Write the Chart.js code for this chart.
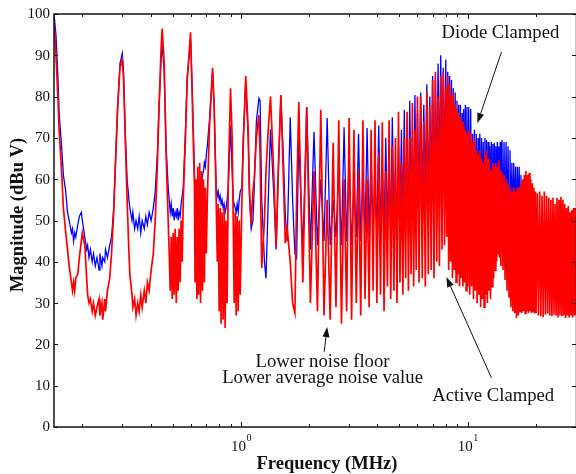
<!DOCTYPE html>
<html>
<head>
<meta charset="utf-8">
<title>Conducted EMI - Diode vs Active Clamped</title>
<script src="https://cdn.jsdelivr.net/npm/chart.js@4/dist/chart.umd.min.js"></script>
<style>
    html, body { margin: 0; padding: 0; background: #fff; }
    #wrap { width: 576px; height: 474px; }
</style>
</head>
<body>
<div id="wrap"><canvas id="emi" width="576" height="474"></canvas></div>
<script>
"use strict";

// Frequency points (MHz) (harmonics of 150 kHz)
var freqMHz = [
    0.150,0.153,0.156,0.158,0.162,0.165,0.169,0.172,0.175,0.179,
    0.181,0.183,0.185,0.187,0.191,0.194,0.198,0.200,0.205,0.209,
    0.211,0.214,0.217,0.221,0.224,0.228,0.232,0.237,0.239,0.244,
    0.246,0.251,0.253,0.258,0.264,0.269,0.275,0.280,0.286,0.293,
    0.300,0.304,0.309,0.315,0.321,0.324,0.331,0.334,0.340,0.345,
    0.351,0.356,0.362,0.367,0.375,0.381,0.387,0.394,0.402,0.411,
    0.419,0.428,0.436,0.445,0.450,0.459,0.468,0.478,0.483,0.488,
    0.493,0.498,0.503,0.508,0.513,0.519,0.524,0.529,0.534,0.540,
    0.545,0.551,0.557,0.568,0.580,0.600,0.610,0.624,0.628,0.634,
    0.640,0.645,0.651,0.658,0.664,0.671,0.677,0.684,0.690,0.697,
    0.704,0.711,0.726,0.750,0.762,0.778,0.787,0.794,0.802,0.810,
    0.818,0.826,0.835,0.843,0.852,0.860,0.869,0.880,0.900,0.915,
    0.925,0.934,0.944,0.953,0.963,0.973,0.983,0.993,1.010,1.024,
    1.050,1.077,1.090,1.110,1.130,1.145,1.170,1.200,1.215,1.235,
    1.270,1.290,1.320,1.350,1.380,1.400,1.430,1.460,1.500,1.540,
    1.570,1.600,1.650,1.690,1.730,1.760,1.800,1.875,1.950,2.025,
    2.100,2.175,2.250,2.325,2.400,2.475,2.550,2.625,2.700,2.775,
    2.850,2.925,3.000,3.075,3.150,3.225,3.300,3.375,3.450,3.525,
    3.600,3.675,3.750,3.825,3.900,3.975,4.050,4.125,4.200,4.275,
    4.350,4.425,4.500,4.575,4.650,4.725,4.800,4.875,4.950,5.025,
    5.100,5.175,5.250,5.325,5.400,5.475,5.550,5.625,5.700,5.775,
    5.850,5.925,6.000,
    6.1,6.2,6.3,6.4,6.5,6.6,6.7,6.8,6.9,7.0,
    7.1,7.2,7.3,7.4,7.5,7.6,7.7,7.8,7.9,8.0,
    8.08,8.16,8.24,8.32,8.40,8.48,8.56,8.64,8.72,8.80,
    8.88,8.96,9.04,9.12,9.20,9.28,9.36,9.44,9.52,9.60,
    9.68,9.76,9.84,9.92,10.0,
    10.1,10.2,10.3,10.4,10.5,10.6,10.7,10.8,10.9,11.0,
    11.1,11.2,11.3,11.4,11.5,11.6,11.7,11.8,11.9,12.0,
    12.1,12.2,12.3,12.4,12.5,12.6,12.7,12.8,12.9,13.0,
    13.1,13.2,13.3,13.4,13.5,13.6,13.7,13.8,13.9,14.0,
    14.15,14.3,14.45,14.6,14.75,14.9,15.05,15.2,15.35,15.5,
    15.65,15.8,15.95,16.1,16.25,16.4,16.55,16.7,16.85,17.0,
    17.15,17.3,17.45,17.6,17.75,17.9,18.05,18.2,18.35,18.5,
    18.65,18.8,18.95,19.1,19.25,19.4,19.55,19.7,19.85,20.0,
    20.25,20.5,20.75,21.0,21.25,21.5,21.75,22.0,22.25,22.5,
    22.75,23.0,23.25,23.5,23.75,24.0,24.25,24.5,24.75,25.0,
    25.25,25.5,25.75,26.0,26.25,26.5,26.75,27.0,27.25,27.5,
    27.75,28.0,28.25,28.5,28.75,29.0,29.25,29.5,29.75,30.0
];

// Active clamped (red), dBuV
var activeClamped = [
    98,90,80,72,62,53,47,43,39,35,
    33,35,33,36,37,41,45,47,44,36,
    32,30,31,28,30,27,29,31,27,30,
    26,31,28,33,36,42,52,64,77,87,
    89,84,70,55,42,37,32,29,31,27,
    30,28,32,29,33,30,35,33,38,42,
    50,63,78,92,96.5,88,66,50,42,33,
    46,31,47,32,48,30,46,33,48,35,
    50,40,55,68,84,95.6,80,58,35,60,
    31,63,32,64,30,62,33,60,35,58,
    42,55,72,87,78,55,40,54,28,53,
    25,52,26,53,24,50,30,60,82,70,
    50,30,52,27,51,28,50,32,55,68,
    85,72,58,49,57,60,70,75.5,66,38.5,
    50,62,72,80,68,59,43.6,62,80.4,60,
    44.5,48,40,30,27.6,55,78.7,35,77.5,30,
    62,28,76.8,27,55,26,68.8,29,74.3,25,
    60,28,74.8,26,72,30,62,27,74.3,31,
    60,29,72,33,74.3,30,66,32,73.8,28,
    62,34,74.3,31,68,33,70,30,76.3,35,
    64,32,70,36,76.3,33,70,37,78.5,34,
    72,38,80,
    35,80,36,74,34,81,37,78,38,84,
    36,86,40,80,39,85,43,86,44,82,
    46,85,38,83,40,80,36,81,38,78,
    35,77,37,76,34,75,36,74,34,73,
    35,72,33,71,34,
    72,32,71,34,69,31,70,33,67,30,
    66,32,67,29,65,31,64,29,66,32,
    67,30,65,33,63,31,62,34,64,36,
    63,38,64,40,63,42,64.6,41,62,39,
    61.5,38,61,35.6,60,33,59,31.5,58,29,
    57,28,58,27.6,57,26.4,58,27,58,28,
    59,27.6,60,28,61,27.5,62,28,61,27.6,
    61.5,28,60,27.6,59,28,58,27.5,57,27.6,
    56.6,27,57,26.8,56,26.6,57,27.2,56,27.5,
    55.5,27,55,26.8,55.5,27.2,54,27,55.5,26.5,
    55,27,55.7,26.8,55,27,54,26.4,53,27,
    53.5,26.5,52,27,52.5,26.5,53,27,53,27
];

// Diode clamped (blue), dBuV - trace stops near 17.3 MHz (hidden under red after)
var diodeClamped = [
    100,95,85,76,68,61,57,52,50,47,
    48,45,47,46,49,51,52,50,46,43,
    44,41,43,40,42,39,41,38,42,39,
    41,40,43,41,44,46,53,64,77,88,
    90.5,86,72,60,55,53,50,52,48,50,
    48,51,47,50,48,51,49,52,50,53,
    57,66,78,89,92.5,86,68,58,55,52,
    54,51,53,50,52,51,53,50,52,51,
    54,56,58,70,85,93.7,82,62,57,56,
    58,57,59,58,60,59,61,62,64,63,
    66,68,74,86,78,58,56,57,55,56,
    54,55,53,54,52,53,55,58,73,62,
    55,54,53,52,54,52,55,57,58,70,
    83.5,70,56,48,50,58,74,79.6,79,55,
    40,36,55,72,62,55,43,60,80,65,
    51,45,75,55,42,41,70,42,77.5,43,
    71.5,44,60,45,74.8,44,55,46,62,44,
    72.6,45,65,44,58,46,71,45,60,47,
    72.4,46,65,47,62,46,73,48,64,46,
    70,48,66,47,75,49,62,48,68,50,
    72,49,76.8,51,68,50,79,52,70,51,
    80.4,53,76,
    56,81,55,78,57,83,54,80,58,85,
    56,84,60,88,59,90,62,87,60,89,
    58,86,57,85,56,84,55,82,56,81,
    54,79,55,78,53,78,54,76,53,77,
    52,78,53,77.5,52,
    77.5,50,77,49,71,51,72,48,71,50,
    70,49,71,48,70,50,69,49,70,48,
    69.5,50,69,48,68,49,69,50,68.5,49,
    68.8,50,68,49,69,48,68,50,69,48,
    69.5,49,69,48,69,50,68,48,67,49,
    64,48,64,49,63,48,63,49,63,47,
    61,47
];

// Axis ticks
var yTicks = [0, 10, 20, 30, 40, 50, 60, 70, 80, 90, 100];
var xMinorTicks = [0.2, 0.3, 0.4, 0.5, 0.6, 0.7, 0.8, 0.9, 2, 3, 4, 5, 6, 7, 8, 9, 20, 30];
var xMajorTicks = [1, 10];
var xMajorExponents = ['0', '1'];

// Call-outs: text anchor [MHz, dBuV], arrow tail and tip [MHz, dBuV]
var notes = [
    { lines: ['Diode Clamped'], at: [13.93, 94.3], tail: [14.08, 90.8], tip: [11.03, 73.6] },
    { lines: ['Active Clamped'], at: [12.95, 6.2], tail: [12.72, 11.9], tip: [8.05, 36.3] },
    { lines: ['Lower noise floor', 'Lower average noise value'], at: [2.29, 14.5], tail: [2.33, 18.2], tip: [2.40, 24.2] }
];

var SERIF = '"Liberation Serif", "Times New Roman", serif';

function toPoints(xs, ys) {
    var out = [];
    for (var i = 0; i < ys.length; i++) {
        out.push({ x: xs[i], y: ys[i] });
    }
    return out;
}

function drawArrow(ctx, x0, y0, x1, y1) {
    var ang = Math.atan2(y1 - y0, x1 - x0);
    var headLen = 10, headHalf = 3.5;
    var bx = x1 - headLen * Math.cos(ang), by = y1 - headLen * Math.sin(ang);
    ctx.beginPath();
    ctx.moveTo(x0, y0);
    ctx.lineTo(bx, by);
    ctx.stroke();
    ctx.beginPath();
    ctx.moveTo(x1, y1);
    ctx.lineTo(bx + headHalf * Math.sin(ang), by - headHalf * Math.cos(ang));
    ctx.lineTo(bx - headHalf * Math.sin(ang), by + headHalf * Math.cos(ang));
    ctx.closePath();
    ctx.fill();
}

// MATLAB-like boxed axes with inward ticks
var matlabAxes = {
    id: 'matlabAxes',
    afterDatasetsDraw: function(chart) {
        var ctx = chart.ctx, a = chart.chartArea;
        var xs = chart.scales.x, ys = chart.scales.y;
        ctx.save();
        ctx.strokeStyle = '#111';
        ctx.fillStyle = '#111';

        // frame
        ctx.lineWidth = 1.5;
        ctx.strokeRect(a.left, a.top, a.right - a.left + 0.5, a.bottom - a.top);

        ctx.lineWidth = 1;
        ctx.beginPath();
        yTicks.forEach(function(v) {
            var y = Math.round(ys.getPixelForValue(v)) + 0.5;
            ctx.moveTo(a.left, y); ctx.lineTo(a.left + 4, y);
            ctx.moveTo(a.right, y); ctx.lineTo(a.right - 4, y);
        });
        xMinorTicks.forEach(function(v) {
            var x = Math.round(xs.getPixelForValue(v)) + 0.5;
            ctx.moveTo(x, a.bottom); ctx.lineTo(x, a.bottom - 3);
            ctx.moveTo(x, a.top); ctx.lineTo(x, a.top + 3);
        });
        xMajorTicks.forEach(function(v) {
            var x = Math.round(xs.getPixelForValue(v)) + 0.5;
            ctx.moveTo(x, a.bottom); ctx.lineTo(x, a.bottom - 5);
            ctx.moveTo(x, a.top); ctx.lineTo(x, a.top + 5);
        });
        ctx.stroke();

        // y tick labels
        ctx.font = '15px ' + SERIF;
        ctx.textAlign = 'right';
        ctx.textBaseline = 'middle';
        yTicks.forEach(function(v) {
            ctx.fillText(String(v), a.left - 4, ys.getPixelForValue(v) + 0.5);
        });

        // x tick labels: 10^n
        ctx.textAlign = 'left';
        ctx.textBaseline = 'alphabetic';
        xMajorTicks.forEach(function(v, i) {
            var x = xs.getPixelForValue(v);
            ctx.font = '15px ' + SERIF;
            var wBase = ctx.measureText('10').width;
            ctx.font = '10px ' + SERIF;
            var wExp = ctx.measureText(xMajorExponents[i]).width;
            var x0 = x - (wBase + wExp) / 2;
            ctx.font = '15px ' + SERIF;
            ctx.fillText('10', x0, a.bottom + 24);
            ctx.font = '10px ' + SERIF;
            ctx.fillText(xMajorExponents[i], x0 + wBase + 0.5, a.bottom + 14);
        });

        // axis titles
        ctx.font = 'bold 18.5px ' + SERIF;
        ctx.textAlign = 'center';
        ctx.textBaseline = 'alphabetic';
        ctx.fillText('Frequency (MHz)', 327, chart.height - 5);

        ctx.save();
        ctx.translate(18, 215);
        ctx.rotate(-Math.PI / 2);
        ctx.textBaseline = 'middle';
        ctx.fillText('Magnitude (dBu V)', 0, 0);
        ctx.restore();

        ctx.restore();
    }
};

// Text call-outs with arrows
var calloutNotes = {
    id: 'calloutNotes',
    afterDraw: function(chart) {
        var ctx = chart.ctx;
        var xs = chart.scales.x, ys = chart.scales.y;
        ctx.save();
        ctx.fillStyle = '#111';
        ctx.strokeStyle = '#111';
        ctx.lineWidth = 1;
        ctx.font = '18.7px ' + SERIF;
        ctx.textAlign = 'center';
        ctx.textBaseline = 'alphabetic';
        notes.forEach(function(n) {
            var tx = xs.getPixelForValue(n.at[0]);
            var ty = ys.getPixelForValue(n.at[1]);
            n.lines.forEach(function(line, k) {
                ctx.fillText(line, tx, ty + k * 15.5);
            });
            drawArrow(ctx,
                xs.getPixelForValue(n.tail[0]), ys.getPixelForValue(n.tail[1]),
                xs.getPixelForValue(n.tip[0]), ys.getPixelForValue(n.tip[1]));
        });
        ctx.restore();
    }
};

var ctx = document.getElementById('emi').getContext('2d');
new Chart(ctx, {
    type: 'line',
    data: {
        datasets: [{
            // first dataset is drawn last, so red lies over blue
            label: 'Active Clamped',
            data: toPoints(freqMHz, activeClamped),
            borderColor: '#ff0000',
            borderWidth: 1.7,
            pointRadius: 0,
            tension: 0,
            fill: false
        }, {
            label: 'Diode Clamped',
            data: toPoints(freqMHz, diodeClamped),
            borderColor: '#0000ff',
            borderWidth: 1.3,
            pointRadius: 0,
            tension: 0,
            fill: false
        }]
    },
    options: {
        responsive: false,
        animation: false,
        events: [],
        layout: { padding: { left: 54, top: 14, right: 0, bottom: 47 } },
        plugins: {
            legend: { display: false },
            tooltip: { enabled: false }
        },
        scales: {
            x: { type: 'logarithmic', min: 0.15, max: 30, display: false },
            y: { type: 'linear', min: 0, max: 100, display: false }
        }
    },
    plugins: [matlabAxes, calloutNotes]
});
</script>
</body>
</html>
